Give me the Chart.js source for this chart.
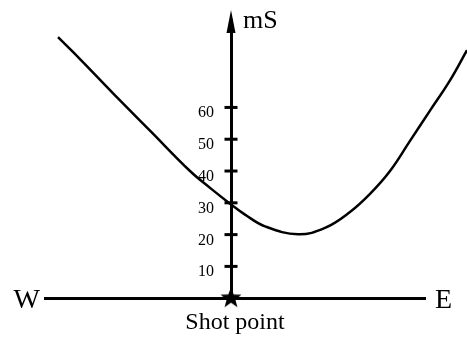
<!DOCTYPE html>
<html>
<head>
<meta charset="utf-8">
<script src="https://cdn.jsdelivr.net/npm/chart.js@4"></script>
<style>
  html, body { margin: 0; padding: 0; background: #fff; }
  #wrap { width: 467px; height: 337px; }
</style>
</head>
<body>
<div id="wrap"><canvas id="my-chart"></canvas></div>
<script>
// distance from shot point (W negative, E positive) and travel time in mS
var offsets = [-86.5, -75.5, -55.5, -40.5, -20.5, -10.5, 0, 7, 17, 33.5, 47, 59.5, 69.5, 79.5, 89.5, 99.5, 109.5, 118];
var times = [82.1, 75.2, 62.2, 52.7, 40.0, 34.7, 29.5, 26.3, 22.6, 20.1, 22.1, 27.1, 32.8, 40.0, 49.5, 59.0, 68.5, 78.0];
var tickValues = [10, 20, 30, 40, 50, 60];
var xRange = [-93, 97];
var yRange = [0, 87.5];
var yLabel = "mS";
var westLabel = "W";
var eastLabel = "E";
var shotLabel = "Shot point";

var serif = "'Liberation Serif', 'Times New Roman', serif";

function makeStar(r) {
  var c = document.createElement("canvas");
  c.width = c.height = 2 * r + 2;
  var g = c.getContext("2d");
  g.fillStyle = "#000";
  g.beginPath();
  for (var i = 0; i < 10; i++) {
    var rad = i % 2 === 0 ? r : r * 0.42;
    var a = -Math.PI / 2 + i * Math.PI / 5;
    g.lineTo(r + 1 + rad * Math.cos(a), r + 1 + rad * Math.sin(a));
  }
  g.closePath();
  g.fill();
  return c;
}

var axisDecor = {
  id: "axisDecor",
  afterDraw: function (chart) {
    var ctx = chart.ctx;
    var xs = chart.scales.x;
    var ys = chart.scales.y;
    var x0 = xs.getPixelForValue(0);
    var y0 = ys.getPixelForValue(0);
    ctx.save();
    ctx.strokeStyle = "#000";
    ctx.fillStyle = "#000";
    ctx.lineWidth = 3;

    // tick marks crossing the time axis, labels on the left
    ctx.font = "16px " + serif;
    ctx.textAlign = "right";
    ctx.textBaseline = "alphabetic";
    ys.ticks.forEach(function (t) {
      var y = ys.getPixelForValue(t.value);
      ctx.beginPath();
      ctx.moveTo(x0 - 6.5, y);
      ctx.lineTo(x0 + 6.5, y);
      ctx.stroke();
      ctx.fillText(String(t.value), x0 - 17, y + 10);
    });

    // arrow head
    ctx.beginPath();
    ctx.moveTo(x0, ys.top - 10);
    ctx.lineTo(x0 - 4.5, ys.top + 13);
    ctx.lineTo(x0 + 4.5, ys.top + 13);
    ctx.closePath();
    ctx.fill();

    ctx.font = "26px " + serif;
    ctx.textAlign = "left";
    ctx.fillText(yLabel, x0 + 12, ys.top + 8);

    ctx.font = "28px " + serif;
    ctx.textAlign = "right";
    ctx.fillText(westLabel, xs.left - 5, y0 + 10);
    ctx.textAlign = "left";
    ctx.fillText(eastLabel, xs.right + 10, y0 + 10);
    ctx.restore();
  }
};

function renderChart() {
  var ctx = document.getElementById("my-chart").getContext("2d");
  var myChart = new Chart(ctx, {
    type: "scatter",
    data: {
      datasets: [
        {
          data: offsets.map(function (x, i) { return { x: x, y: times[i] }; }),
          showLine: true,
          borderColor: "#000",
          borderWidth: 2.5,
          pointRadius: 0,
          tension: 0.4,
          clip: false,
        },
        {
          data: [{ x: 0, y: 0 }],
          pointStyle: makeStar(11),
          pointRadius: 11,
          clip: false,
        },
      ],
    },
    options: {
      responsive: true,
      maintainAspectRatio: false,
      animation: false,
      layout: { padding: { left: 45, right: 42, top: 20, bottom: 0 } },
      plugins: { legend: { display: false }, tooltip: { enabled: false } },
      scales: {
        x: {
          type: "linear",
          bounds: "data",
          position: "bottom",
          // range set after data limits so the curve past the E end still gets drawn
          afterDataLimits: function (scale) {
            scale.min = xRange[0];
            scale.max = xRange[1];
          },
          grid: { display: false, drawTicks: false },
          border: { color: "#000", width: 3 },
          ticks: { display: false },
          title: {
            display: true,
            text: shotLabel,
            color: "#000",
            font: { family: serif, size: 24 },
            padding: { top: 10, bottom: 0 },
          },
        },
        y: {
          type: "linear",
          min: yRange[0],
          max: yRange[1],
          position: { x: 0 },
          grid: { display: false, drawTicks: false },
          border: { color: "#000", width: 3 },
          ticks: { display: false },
          afterBuildTicks: function (scale) {
            scale.ticks = tickValues.map(function (v) { return { value: v }; });
          },
        },
      },
    },
    plugins: [axisDecor],
  });
}

renderChart();
</script>
</body>
</html>
